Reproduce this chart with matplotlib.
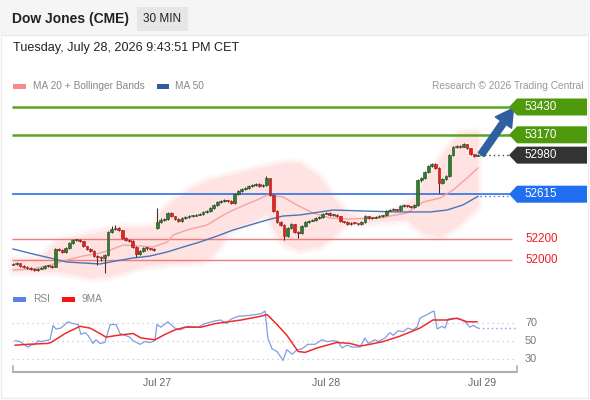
import matplotlib
matplotlib.use("Agg")
import matplotlib.pyplot as plt
from matplotlib.patches import Polygon, Rectangle
import numpy as np

plt.rcParams['font.family'] = ['Liberation Sans', 'DejaVu Sans']

# ---------------- data ----------------
closes = [51963, 51970, 51944, 51935, 51925, 51916, 51907, 51916, 51925, 51944,
          51944, 51935, 52103, 52093, 52075, 52112, 52159, 52187, 52190, 52178,
          52131, 52103, 52084, 52037, 52028, 52019, 52047, 52262, 52290, 52299,
          52280, 52206, 52187, 52178, 52121, 52056, 52084, 52112, 52108, 52103,
          52098, 52355, 52374, 52383, 52439, 52411, 52383, 52364, 52393, 52402,
          52411, 52414, 52421, 52430, 52449, 52458, 52486, 52514, 52542, 52551,
          52561, 52551, 52533, 52617, 52645, 52664, 52673, 52692, 52701, 52710,
          52692, 52701, 52766, 52607, 52458, 52355, 52327, 52224, 52299, 52336,
          52262, 52252, 52318, 52355, 52364, 52374, 52393, 52402, 52430, 52439,
          52421, 52424, 52411, 52364, 52355, 52336, 52346, 52343, 52336, 52355,
          52411, 52393, 52396, 52402, 52411, 52416, 52458, 52467, 52477, 52467,
          52505, 52514, 52505, 52495, 52514, 52748, 52766, 52822, 52879, 52897,
          52860, 52720, 52757, 52785, 52981, 53056, 53065, 53060, 53084, 53047,
          52991, 52972, 52980]
opens = [51955] + closes[:-1]
opens[41] = 52299          # gap open of Jul 27 session

highs = [51975, 51980, 51972, 51950, 51940, 51932, 51922, 51925, 51935, 51955,
         51956, 51950, 52112, 52112, 52100, 52120, 52168, 52196, 52200, 52196,
         52180, 52135, 52110, 52090, 52045, 52035, 52056, 52275, 52318, 52327,
         52305, 52285, 52215, 52196, 52185, 52130, 52095, 52122, 52120, 52115,
         52108, 52486, 52390, 52395, 52450, 52445, 52415, 52390, 52400, 52410,
         52420, 52422, 52430, 52440, 52458, 52468, 52495, 52524, 52552, 52562,
         52572, 52565, 52560, 52626, 52655, 52673, 52683, 52702, 52712, 52722,
         52715, 52712, 52785, 52770, 52615, 52465, 52365, 52335, 52310, 52346,
         52340, 52270, 52328, 52365, 52374, 52384, 52402, 52412, 52440, 52449,
         52445, 52432, 52428, 52414, 52368, 52360, 52355, 52352, 52348, 52365,
         52420, 52415, 52405, 52410, 52420, 52425, 52468, 52477, 52486, 52480,
         52514, 52524, 52518, 52508, 52523, 52758, 52775, 52832, 52888, 52906,
         52903, 52866, 52766, 52795, 52995, 53065, 53075, 53072, 53094, 53085,
         53050, 52995, 52990]
lows = [51950, 51955, 51935, 51925, 51915, 51905, 51898, 51900, 51912, 51918,
        51934, 51926, 51930, 52080, 52062, 52068, 52105, 52150, 52178, 52168,
        52122, 52090, 52074, 52025, 51953, 51990, 51880, 52040, 52252, 52280,
        52270, 52196, 52176, 52165, 52112, 52028, 52048, 52078, 52098, 52092,
        52088, 52290, 52345, 52365, 52375, 52400, 52372, 52354, 52358, 52385,
        52395, 52405, 52410, 52418, 52425, 52440, 52450, 52478, 52505, 52532,
        52542, 52540, 52524, 52525, 52608, 52635, 52655, 52665, 52682, 52692,
        52682, 52685, 52692, 52598, 52448, 52345, 52315, 52190, 52215, 52290,
        52250, 52210, 52245, 52310, 52345, 52362, 52365, 52385, 52395, 52428,
        52412, 52414, 52400, 52355, 52345, 52325, 52330, 52334, 52326, 52330,
        52345, 52385, 52385, 52388, 52400, 52405, 52408, 52455, 52465, 52458,
        52460, 52496, 52495, 52485, 52488, 52505, 52730, 52755, 52812, 52868,
        52850, 52626, 52712, 52745, 52775, 52970, 53045, 53050, 53052, 53040,
        52980, 52962, 52968]

# MA 20
ma20_t = [0.0, 5.7, 10.5, 15.3, 19.9, 24.7, 27.6, 31.3, 36.1, 39.8, 43.8, 45.5,
          49.4, 55.1, 60.8, 64.5, 69.3, 72.2, 76.7, 80.7, 85.2, 90.1, 94.9, 104.3,
          111.9, 116.5, 121.3, 125.0, 129.0, 132.1]
ma20_v = [51907, 51916, 51953, 52000, 52037, 52065, 52093, 52140, 52131, 52121,
          52168, 52234, 52280, 52327, 52439, 52495, 52561, 52607, 52589, 52514,
          52439, 52393, 52383, 52393, 52439, 52542, 52579, 52654, 52766, 52860]
# Bollinger bands
bbu_t = [0.0, 8.0, 10.8, 12.8, 17.6, 22.2, 27.0, 30.7, 36.4, 40.3, 42.0, 46.0,
         51.7, 56.3, 61.1, 68.2, 72.2, 77.3, 81.5, 87.2, 90.9, 94.9, 99.4, 104.3,
         109.1, 113.6, 118.5, 123.3, 127.0, 132.1]
bbu_v = [52000, 52019, 52112, 52168, 52215, 52243, 52280, 52308, 52299, 52308,
         52449, 52561, 52682, 52748, 52785, 52841, 52869, 52907, 52907, 52776,
         52589, 52439, 52393, 52421, 52467, 52561, 52813, 53028, 53187, 53196]
bbl_t = [0.0, 8.0, 12.8, 17.6, 22.2, 27.0, 31.8, 36.4, 41.2, 46.0, 53.1, 56.3,
         59.1, 61.1, 63.9, 68.2, 72.2, 74.4, 77.3, 81.5, 87.2, 90.9, 94.9, 99.4,
         104.3, 111.9, 116.5, 121.3, 126.1, 129.8, 132.1]
bbl_v = [51888, 51888, 51888, 51860, 51832, 51841, 51888, 51935, 51953, 51972,
         51981, 52028, 52140, 52252, 52308, 52355, 52430, 52262, 52140, 52093,
         52121, 52215, 52346, 52346, 52355, 52374, 52252, 52215, 52308, 52421,
         52495]
# MA 50
ma50_t = [0.0, 5.7, 10.5, 15.3, 19.9, 24.7, 27.6, 34.1, 38.9, 43.8, 48.3, 53.1,
          58.0, 62.5, 67.3, 72.2, 76.7, 81.5, 85.2, 90.9, 99.4, 109.1, 118.5,
          123.3, 127.8, 132.1]
ma50_v = [52103, 52056, 52019, 51981, 51972, 51963, 51981, 52019, 52037, 52075,
          52121, 52168, 52224, 52280, 52327, 52374, 52411, 52421, 52439, 52467,
          52458, 52449, 52449, 52467, 52514, 52595]

# RSI and its 9-period MA
rsi_t = [0.6, 2.0, 3.4, 4.3, 5.1, 6.3, 7.1, 8.0, 9.1, 10.5, 11.4, 12.2, 13.6,
         15.6, 17.0, 18.5, 19.3, 20.5, 21.3, 22.7, 23.6, 24.7, 26.1, 27.6, 29.3,
         30.4, 31.8, 33.2, 34.1, 36.1, 37.5, 38.9, 40.3, 40.9, 42.0, 44.0, 46.0,
         47.4, 49.7, 52.6, 54.5, 57.4, 59.1, 60.5, 61.9, 63.9, 66.8, 68.8, 70.5,
         71.6, 72.4, 73.6, 75.0, 76.4, 76.7, 77.8, 79.3, 80.7, 82.1, 83.8, 85.8,
         87.8, 89.2, 90.9, 92.3, 93.5, 94.9, 96.3, 98.6, 100.0, 100.9, 102.8,
         103.7, 105.7, 107.1, 108.0, 109.4, 110.8, 112.2, 113.6, 114.8, 115.6,
         117.6, 119.0, 119.6, 120.5, 121.9, 122.7, 123.6, 125.0, 127.0, 128.4,
         129.8, 130.7, 132.1]
rsi_v = [50, 49, 45, 43, 45, 46, 50, 49, 50, 51, 67, 63, 64, 71, 69, 68, 57, 59,
         56, 47, 51, 47, 48, 68, 68, 58, 56, 54, 50, 46, 49, 48, 50, 68, 65, 71,
         64, 62, 66, 65, 69, 72, 73, 69, 74, 77, 78, 79, 80, 83, 53, 41, 38, 30,
         28, 40, 35, 40, 41, 46, 46, 51, 49, 50, 49, 42, 45, 43, 43, 53, 47, 51,
         49, 53, 59, 56, 61, 60, 64, 62, 65, 75, 79, 82, 83, 63, 66, 64, 74, 75,
         74, 71, 65, 67, 64]
rsima_t = [0.6, 4.3, 9.9, 10.8, 14.8, 19.0, 21.9, 24.7, 26.4, 29.8, 34.1, 36.4,
           40.3, 43.2, 46.0, 48.9, 53.4, 57.4, 64.8, 70.2, 72.2, 75.0, 77.8, 81.0,
           83.0, 86.4, 92.0, 95.7, 98.6, 101.4, 105.1, 109.9, 115.6, 119.3, 123.3,
           126.1, 129.0, 131.8]
rsima_v = [45, 46, 47, 48, 58, 66, 64, 58, 54, 56, 58, 53, 51, 57, 62, 65, 65,
           69, 73, 77, 79, 68, 56, 38, 37, 42, 48, 47, 44, 46, 49, 55, 64, 73, 73,
           75, 71, 71]

levels = [53430, 53170, 52615, 52200, 52000]
level_kind = ['res', 'res', 'pivot', 'sup', 'sup']
last_price = 52980
day_ticks = [41, 89, 137]
day_labels = ['Jul 27', 'Jul 28', 'Jul 29']
rsi_levels = [70, 50, 30]

# ---------------- layout ----------------
W, H = 590, 400
PX0, PXC = 13.0, 3.52           # pixel of candle 0, pixels per candle
def ix(px):
    return (px - PX0) / PXC
P0, PY0, PPP = 52000.0, 260.0, 0.107  # price at pixel row, px per price unit
R0, RY0, RPP = 50.0, 340.7, 0.9

fig = plt.figure(figsize=(W / 100, H / 100), dpi=100)
fig.patch.set_facecolor('white')

axbg = fig.add_axes([0, 0, 1, 1], zorder=0)
axbg.set_xlim(0, W); axbg.set_ylim(H, 0); axbg.axis('off')

axm = fig.add_axes([0, 0, 1, 1], zorder=1)
axm.patch.set_alpha(0)
axm.set_xlim(ix(0), ix(W))
axm.set_ylim(P0 + (PY0 - H) / PPP, P0 + PY0 / PPP)
axm.axis('off')

axr = fig.add_axes([0, 0, 1, 1], zorder=1)
axr.patch.set_alpha(0)
axr.set_xlim(ix(0), ix(W))
axr.set_ylim(R0 + (RY0 - H) / RPP, R0 + RY0 / RPP)
axr.axis('off')

axfg = fig.add_axes([0, 0, 1, 1], zorder=3)
axfg.patch.set_alpha(0)
axfg.set_xlim(0, W); axfg.set_ylim(H, 0); axfg.axis('off')

# background / header
axbg.add_patch(Rectangle((0, 0), W, 35, facecolor='#f5f5f5', edgecolor='none'))
axbg.add_patch(Rectangle((1, 35), W - 3, H - 37, facecolor='none', edgecolor='#ececec', lw=1))
axbg.add_patch(Rectangle((137, 7), 51, 24, facecolor='#e6e6e6', edgecolor='none'))
axfg.text(12, 19, 'Dow Jones (CME)', fontsize=10.0, fontweight='bold', color='#222222', va='center', ha='left')
axfg.text(162.5, 19, '30 MIN', fontsize=8.5, color='#222222', va='center', ha='center')
axfg.text(13, 48, 'Tuesday, July 28, 2026 9:43:51 PM CET', fontsize=9.1, color='#222222', va='center', ha='left')

# legends
axfg.add_patch(Rectangle((13, 83.5), 13, 5, facecolor='#f88a8a', edgecolor='none'))
axfg.text(33, 86, 'MA 20 + Bollinger Bands', fontsize=7.3, color='#888888', va='center')
axfg.add_patch(Rectangle((157, 83.5), 12, 5, facecolor='#2f5c9e', edgecolor='none'))
axfg.text(175, 86, 'MA 50', fontsize=7.3, color='#888888', va='center')
axfg.text(583, 86, 'Research \u00a9 2026 Trading Central', fontsize=7.3, color='#999999', va='center', ha='right')
axfg.add_patch(Rectangle((13, 296.5), 13, 5, facecolor='#5f82e0', edgecolor='none'))
axfg.text(33, 299, 'RSI', fontsize=7.3, color='#888888', va='center')
axfg.add_patch(Rectangle((62, 296.5), 13, 5, facecolor='#ff1010', edgecolor='none'))
axfg.text(82, 299, '9MA', fontsize=7.3, color='#888888', va='center')

# Bollinger band (polygon from read samples), with a soft edge
band_xy = np.column_stack([list(bbu_t) + list(bbl_t[::-1]),
                           list(bbu_v) + list(bbl_v[::-1])])
for lw_, a_ in [(7, 0.25), (4, 0.4)]:
    axm.add_patch(Polygon(band_xy, closed=True, facecolor='none', edgecolor='#ffe6e6',
                          lw=lw_, alpha=a_, joinstyle='round', zorder=1))
axm.add_patch(Polygon(band_xy, closed=True, facecolor='#ffe2e2', edgecolor='none', zorder=1))

# levels
lx0, lx1 = ix(12), ix(512)
lev_style = {'res': ('#5aa51e', 1.8), 'pivot': ('#2f6fe6', 1.2), 'sup': ('#f27a7a', 1.0)}
for lv, kd in zip(levels, level_kind):
    c, lw = lev_style[kd]
    axm.plot([lx0, lx1], [lv, lv], color=c, lw=lw, zorder=2, solid_capstyle='butt')

# MAs
axm.plot(ma20_t, ma20_v, color='#f5a3a3', lw=1.0, zorder=3)
axm.plot(ma50_t, ma50_v, color='#4a76b8', lw=1.0, zorder=3)

# candles
n = len(closes)
idx = np.arange(n)
o = np.array(opens, float); c = np.array(closes, float)
hi = np.array(highs, float); lo = np.array(lows, float)
up = c >= o
axm.vlines(idx, lo, hi, color='#333333', lw=0.75, zorder=4)
body_lo = np.minimum(o, c)
body_h = np.maximum(np.abs(c - o), 9)
axm.bar(idx[up], body_h[up], bottom=body_lo[up], width=0.8, color='#2f7d2f',
        edgecolor='#1d4a1d', lw=0.4, zorder=5)
axm.bar(idx[~up], body_h[~up], bottom=body_lo[~up], width=0.8, color='#e3221c',
        edgecolor='#a01212', lw=0.4, zorder=5)

# dotted extensions
lastx = n - 1
axm.plot([lastx + 0.8, lx1 - 0.8], [last_price, last_price], color='#444444', lw=1,
         ls=(0, (1, 2.2)), zorder=3)
axm.plot([lastx + 0.8, lx1 - 0.8], [ma50_v[-1], ma50_v[-1]], color='#4a76b8', lw=1,
         ls=(0, (1, 2.2)), zorder=3)

# arrow toward target
axm.annotate('', xy=(lastx + 10.2, levels[0] - 10), xytext=(lastx + 1.0, last_price + 5),
             arrowprops=dict(arrowstyle='simple,head_length=0.85,head_width=0.95,tail_width=0.33',
                             color='#2f5f9f', mutation_scale=15, shrinkA=0, shrinkB=0), zorder=6)

# price tags
tip, bl, br = ix(509), ix(517), ix(587)
hh = 8.5 / PPP
tag_col = {'res': '#4f9a0c', 'pivot': '#1f6ff0', 'last': '#333333'}
def tag(price, col):
    pts = [(tip, price), (bl, price + hh), (br, price + hh), (br, price - hh), (bl, price - hh)]
    axm.add_patch(Polygon(pts, closed=True, facecolor=col, edgecolor='none', zorder=6))
    axm.text(ix(524), price, f'{price}', color='white', fontsize=8.4, va='center', ha='left', zorder=7)
for lv, kd in zip(levels, level_kind):
    if kd == 'sup':
        axm.text(ix(525), lv, f'{lv}', color='#f01e1e', fontsize=8.4, va='center', ha='left', zorder=7)
    else:
        tag(lv, tag_col[kd])
tag(last_price, tag_col['last'])

# RSI panel
for rl in rsi_levels:
    axr.plot([ix(12), ix(515)], [rl, rl], color='#c8c8c8', lw=0.9, ls=(0, (1, 3)), zorder=1)
    axr.text(ix(531), rl, str(rl), color='#777777', fontsize=7.8, va='center', ha='center')
axr.plot(rsi_t, rsi_v, color='#7f9de6', lw=0.9, zorder=3)
axr.plot(rsima_t, rsima_v, color='#f22a2a', lw=1.1, zorder=4)
axr.plot([rsi_t[-1], ix(515)], [rsi_v[-1], rsi_v[-1]], color='#7f9de6', lw=1.0,
         ls=(0, (1, 2.2)), zorder=3)

# bottom time axis
axfg.plot([12, 517], [372, 372], color='#b0b0b0', lw=1.5, solid_capstyle='butt')
axfg.plot([12.5, 12.5], [366, 372], color='#b0b0b0', lw=1.2)
axfg.plot([516.5, 516.5], [366, 372], color='#b0b0b0', lw=1.2)
for k, (t, lab) in enumerate(zip(day_ticks, day_labels)):
    px = PX0 + t * PXC
    ha = 'right' if k == len(day_ticks) - 1 else 'center'
    axfg.text(px if ha == 'center' else px + 1, 383, lab, fontsize=7.6, color='#666666',
              ha=ha, va='center')

fig.savefig('out.png', dpi=100, facecolor='white')
